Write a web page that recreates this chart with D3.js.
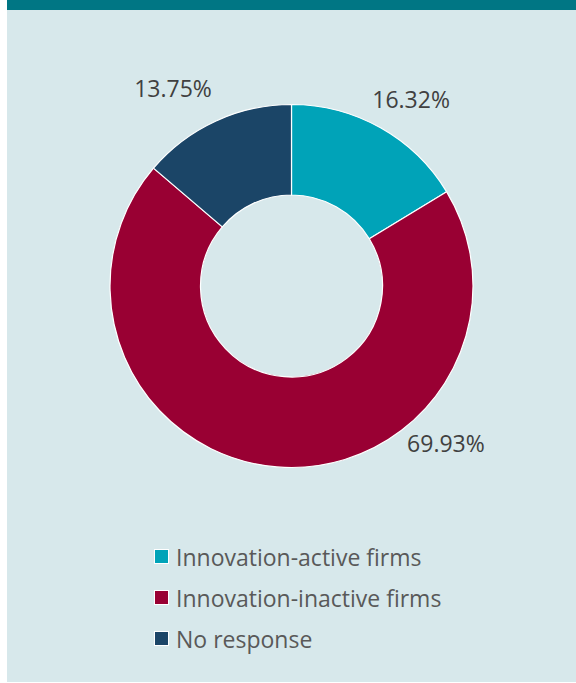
<!DOCTYPE html>
<html>
<head>
<meta charset="utf-8">
<script src="https://cdn.jsdelivr.net/npm/d3@7"></script>
<style>
  html, body { margin: 0; padding: 0; background: #ffffff; }
  svg { display: block; }
  text { font-family: "Open Sans", "Noto Sans", sans-serif; fill: #404040; }
</style>
</head>
<body>
<div id="chart"></div>
<script>
// Survey response shares (percent)
const categories = ["Innovation-active firms", "Innovation-inactive firms", "No response"];
const shares = [16.32, 69.93, 13.75];
const sliceColors = ["#00a3b8", "#990033", "#1b4567"];

// Where each percentage label sits: angle (degrees clockwise from 12 o'clock)
// and distance as a multiple of the outer radius
const labelAngles = [32.6, 135.5, 329.1];
const labelRadii = [1.223, 1.214, 1.271];

const W = 576, H = 683;
const svg = d3.select("#chart").append("svg")
  .attr("width", W).attr("height", H);

// Panel background and top accent band
svg.append("rect").attr("x", 7).attr("y", 0).attr("width", W - 7).attr("height", 682)
  .attr("fill", "#d7e8eb");
svg.append("rect").attr("x", 7).attr("y", 0).attr("width", W - 7).attr("height", 10)
  .attr("fill", "#007684");

const cx = 291.5, cy = 286, outerR = 181.5, innerR = 91;

const data = categories.map((c, i) => ({ name: c, value: shares[i], color: sliceColors[i] }));

const pie = d3.pie().value(d => d.value).sort(null);
const arc = d3.arc().innerRadius(innerR).outerRadius(outerR);

const g = svg.append("g").attr("transform", `translate(${cx},${cy})`);
const arcs = pie(data);

g.selectAll("path.slice").data(arcs).join("path")
  .attr("class", "slice")
  .attr("d", arc)
  .attr("fill", d => d.data.color)
  .attr("stroke", "#ffffff")
  .attr("stroke-width", 1.2)
  .attr("stroke-linejoin", "round");

// Percentage labels
g.selectAll("text.pct").data(arcs).join("text")
  .attr("class", "pct")
  .attr("x", (d, i) => Math.sin(labelAngles[i] * Math.PI / 180) * outerR * labelRadii[i])
  .attr("y", (d, i) => -Math.cos(labelAngles[i] * Math.PI / 180) * outerR * labelRadii[i])
  .attr("text-anchor", "middle")
  .attr("dominant-baseline", "central")
  .style("font-size", "23px")
  .text(d => d3.format(".2f")(d.data.value) + "%");

// Legend
const legend = svg.append("g").attr("transform", "translate(154,556.5)");
const rowGap = 41;
const items = legend.selectAll("g.item").data(data).join("g")
  .attr("class", "item")
  .attr("transform", (d, i) => `translate(0,${i * rowGap})`);
items.append("rect")
  .attr("x", 0.5).attr("y", -7).attr("width", 14).attr("height", 14)
  .attr("fill", d => d.color)
  .attr("stroke", "#ffffff").attr("stroke-width", 1);
items.append("text")
  .attr("x", 22).attr("y", 0)
  .attr("dominant-baseline", "central")
  .style("font-size", "23px")
  .style("fill", "#595959")
  .text(d => d.name);
</script>
</body>
</html>
